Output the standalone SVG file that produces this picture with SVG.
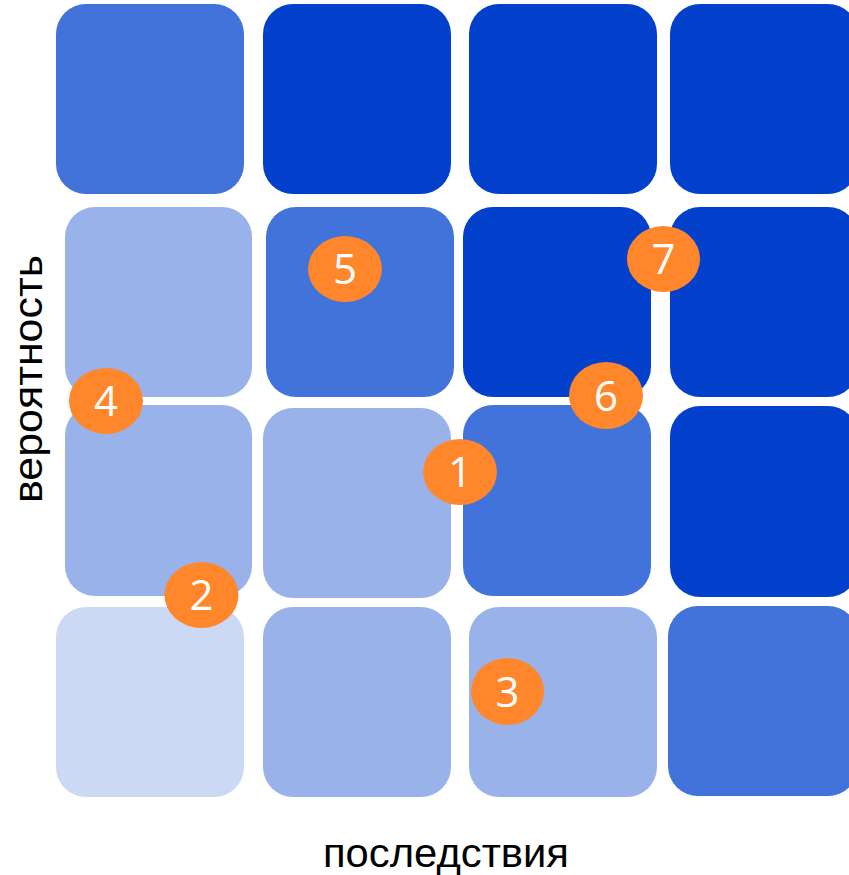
<svg xmlns="http://www.w3.org/2000/svg" width="849" height="875" viewBox="0 0 849 875">
<style>
.d{fill:#0341CD}
.m{fill:#4173DA}
.l{fill:#99B3EA}
.x{fill:#CBD9F4}
.o{fill:#FF862B}
.n{fill:#FFFFFF;font-family:"Open Sans","Liberation Sans",sans-serif;font-size:42px;text-anchor:middle}
.a{fill:#000000;font-family:"Liberation Sans","Open Sans",sans-serif;font-size:41px;text-anchor:middle}
</style>
<rect width="849" height="875" fill="#FFFFFF"/>
<g id="cells">
<g id="c00"><rect class="m" x="56" y="4" width="188" height="190" rx="30"/></g>
<g id="c01"><rect class="d" x="263" y="4" width="188" height="190" rx="30"/></g>
<g id="c02"><rect class="d" x="469" y="4" width="188" height="190" rx="30"/></g>
<g id="c03"><rect class="d" x="670" y="4" width="188" height="190" rx="30"/></g>
<g id="c10"><rect class="l" x="65" y="207" width="187" height="190" rx="30"/></g>
<g id="c11"><rect class="m" x="266" y="207" width="188" height="190" rx="30"/></g>
<g id="c12"><rect class="d" x="463" y="207" width="188" height="190" rx="30"/></g>
<g id="c13"><rect class="d" x="670" y="207" width="188" height="190" rx="30"/></g>
<g id="c20"><rect class="l" x="65" y="405" width="187" height="191" rx="30"/></g>
<g id="c21"><rect class="l" x="263" y="408" width="188" height="190" rx="30"/></g>
<g id="c22"><rect class="m" x="463" y="405" width="188" height="191" rx="30"/></g>
<g id="c23"><rect class="d" x="670" y="406" width="188" height="191" rx="30"/></g>
<g id="c30"><rect class="x" x="56" y="607" width="188" height="190" rx="30"/></g>
<g id="c31"><rect class="l" x="263" y="607" width="188" height="190" rx="30"/></g>
<g id="c32"><rect class="l" x="469" y="607" width="188" height="190" rx="30"/></g>
<g id="c33"><rect class="m" x="668" y="606" width="190" height="190" rx="30"/></g>
</g>
<g id="markers">
<g id="m1"><ellipse class="o" cx="460" cy="472" rx="37" ry="33"/><text class="n" x="460" y="487">1</text></g>
<g id="m2"><ellipse class="o" cx="201.5" cy="595" rx="37" ry="33"/><text class="n" x="201.5" y="610">2</text></g>
<g id="m3"><ellipse class="o" cx="507.5" cy="691.5" rx="36.5" ry="33.5"/><text class="n" x="507.5" y="706.5">3</text></g>
<g id="m4"><ellipse class="o" cx="106" cy="401" rx="37" ry="33"/><text class="n" x="106" y="416">4</text></g>
<g id="m5"><ellipse class="o" cx="345" cy="269" rx="37" ry="33"/><text class="n" x="345" y="284">5</text></g>
<g id="m6"><ellipse class="o" cx="606" cy="395.5" rx="37" ry="33.5"/><text class="n" x="606" y="410.5">6</text></g>
<g id="m7"><ellipse class="o" cx="663.5" cy="259" rx="36.5" ry="33"/><text class="n" x="663.5" y="274">7</text></g>
</g>
<g id="axes">
<text class="a" x="446" y="867" textLength="246" lengthAdjust="spacingAndGlyphs">последствия</text>
<text class="a" transform="translate(42 379) rotate(-90)" textLength="248" lengthAdjust="spacingAndGlyphs">вероятность</text>
</g>
</svg>
